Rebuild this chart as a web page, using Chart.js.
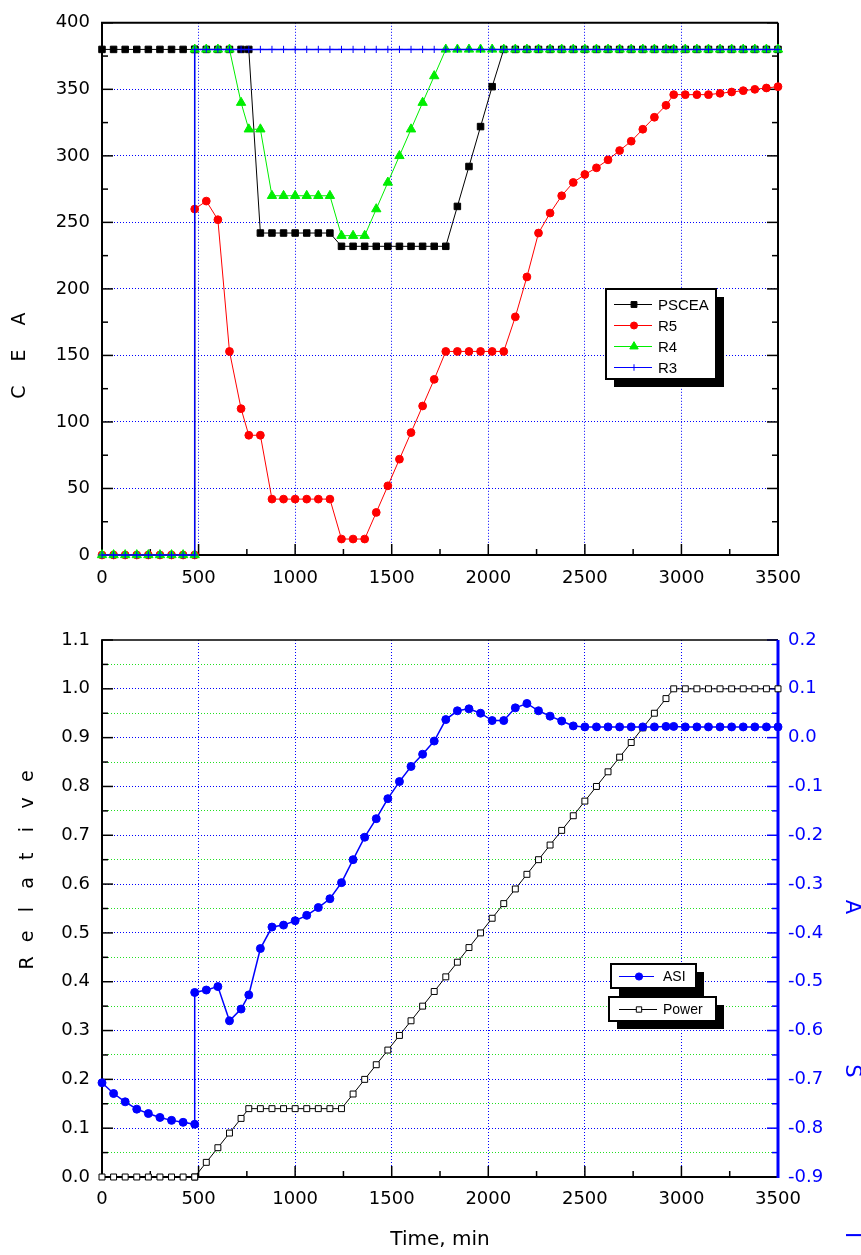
<!DOCTYPE html>
<html lang="en">
<head>
<meta charset="UTF-8">
<title>CEA and ASI vs time</title>
<script src="https://cdn.jsdelivr.net/npm/chart.js@4.4.0/dist/chart.umd.min.js"></script>
<style>
  body { margin: 0; background: #fff; }
  #wrap { position: relative; width: 861px; height: 1255px; background: #fff; }
  #topChart { position: absolute; left: 0; top: 0; }
  #botChart { position: absolute; left: 0; top: 600px; }
</style>
</head>
<body>
<div id="wrap">
  <canvas id="topChart" width="861" height="600"></canvas>
  <canvas id="botChart" width="861" height="655"></canvas>
</div>

<script>
// time axis, min (480 appears twice: the step change happens at that moment)
const timeMin = [0, 60, 120, 180, 240, 300, 360, 420, 480,
  480, 540, 600, 660, 720, 760,
  820, 880, 940, 1000, 1060, 1120, 1180, 1240, 1300, 1360, 1420, 1480, 1540, 1600, 1660, 1720, 1780, 1840,
  1900, 1960, 2020, 2080, 2140, 2200, 2260, 2320, 2380, 2440, 2500, 2560, 2620, 2680, 2740, 2800, 2860, 2920,
  2960, 3020, 3080, 3140, 3200, 3260, 3320, 3380, 3440, 3500];

// top panel: CEA positions
const psceaCEA = [380, 380, 380, 380, 380, 380, 380, 380, 380,
  380, 380, 380, 380, 380, 380,
  242, 242, 242, 242, 242, 242, 242, 232, 232, 232, 232, 232, 232, 232, 232, 232, 232, 262,
  292, 322, 352, 380, 380, 380, 380, 380, 380, 380, 380, 380, 380, 380, 380, 380, 380, 380,
  380, 380, 380, 380, 380, 380, 380, 380, 380, 380];
const r5CEA = [0, 0, 0, 0, 0, 0, 0, 0, 0,
  260, 266, 252, 153, 110, 90,
  90, 42, 42, 42, 42, 42, 42, 12, 12, 12, 32, 52, 72, 92, 112, 132, 153, 153,
  153, 153, 153, 153, 179, 209, 242, 257, 270, 280, 286, 291, 297, 304, 311, 320, 329, 338,
  346, 346, 346, 346, 347, 348, 349, 350, 351, 352];
const r4CEA = [0, 0, 0, 0, 0, 0, 0, 0, 0,
  380, 380, 380, 380, 340, 320,
  320, 270, 270, 270, 270, 270, 270, 240, 240, 240, 260, 280, 300, 320, 340, 360, 380, 380,
  380, 380, 380, 380, 380, 380, 380, 380, 380, 380, 380, 380, 380, 380, 380, 380, 380, 380,
  380, 380, 380, 380, 380, 380, 380, 380, 380, 380];
const r3CEA = [0, 0, 0, 0, 0, 0, 0, 0, 0,
  380, 380, 380, 380, 380, 380,
  380, 380, 380, 380, 380, 380, 380, 380, 380, 380, 380, 380, 380, 380, 380, 380, 380, 380,
  380, 380, 380, 380, 380, 380, 380, 380, 380, 380, 380, 380, 380, 380, 380, 380, 380, 380,
  380, 380, 380, 380, 380, 380, 380, 380, 380, 380];

// bottom panel: ASI (right axis) and relative power (left axis)
const asiVal = [-0.707, -0.729, -0.746, -0.761, -0.770, -0.778, -0.784, -0.788, -0.792,
  -0.522, -0.517, -0.510, -0.580, -0.556, -0.527,
  -0.432, -0.388, -0.384, -0.375, -0.364, -0.348, -0.330, -0.297, -0.250, -0.204, -0.166, -0.125, -0.090, -0.059, -0.034, -0.007, 0.037, 0.055,
  0.059, 0.050, 0.035, 0.035, 0.061, 0.070, 0.055, 0.044, 0.034, 0.024, 0.022, 0.022, 0.022, 0.022, 0.022, 0.022, 0.022, 0.023,
  0.023, 0.022, 0.022, 0.022, 0.022, 0.022, 0.022, 0.022, 0.022, 0.022];
const powerVal = [0, 0, 0, 0, 0, 0, 0, 0, 0,
  0, 0.03, 0.06, 0.09, 0.12, 0.14,
  0.14, 0.14, 0.14, 0.14, 0.14, 0.14, 0.14, 0.14, 0.17, 0.20, 0.23, 0.26, 0.29, 0.32, 0.35, 0.38, 0.41, 0.44,
  0.47, 0.50, 0.53, 0.56, 0.59, 0.62, 0.65, 0.68, 0.71, 0.74, 0.77, 0.80, 0.83, 0.86, 0.89, 0.92, 0.95, 0.98,
  1.00, 1.00, 1.00, 1.00, 1.00, 1.00, 1.00, 1.00, 1.00, 1.00];

const TICK_FONT = { family: 'DejaVu Sans', size: 18 };

function pts(vals) {
  return timeMin.map((t, i) => ({ x: t, y: vals[i] }));
}

function series(label, vals, st) {
  return {
    label: label,
    data: pts(vals),
    yAxisID: st.axis || 'y',
    borderColor: st.color,
    borderWidth: st.lw || 1,
    pointStyle: st.style,
    pointRadius: st.r,
    pointBackgroundColor: st.fill,
    pointBorderColor: st.color,
    pointBorderWidth: 1,
    tension: 0,
    fill: false,
    clip: false,
    order: st.order
  };
}

function near(v, step) {
  return Math.abs(Math.round(v / step) - v / step) < 1e-6;
}

// frame lines and inward tick marks
const axisFrame = {
  id: 'axisFrame',
  beforeDatasetsDraw(chart, args, o) {
    const ctx = chart.ctx, a = chart.chartArea;
    ctx.save();
    (o.ticks || []).forEach(t => {
      const sc = chart.scales[t.scale];
      ctx.strokeStyle = t.color;
      ctx.lineWidth = 1.5;
      sc.ticks.forEach(tk => {
        const len = tk.label ? 11 : 6;
        const p = sc.getPixelForValue(tk.value);
        ctx.beginPath();
        if (t.side === 'left') { ctx.moveTo(a.left, p); ctx.lineTo(a.left + len, p); }
        if (t.side === 'right') { ctx.moveTo(a.right, p); ctx.lineTo(a.right - len, p); }
        if (t.side === 'bottom') { ctx.moveTo(p, a.bottom); ctx.lineTo(p, a.bottom - len); }
        ctx.stroke();
      });
    });
    (o.edges || []).forEach(e => {
      ctx.strokeStyle = e.color;
      ctx.lineWidth = e.width;
      ctx.beginPath();
      if (e.side === 'left') { ctx.moveTo(a.left, a.top); ctx.lineTo(a.left, a.bottom + 1); }
      if (e.side === 'right') { ctx.moveTo(a.right, a.top); ctx.lineTo(a.right, a.bottom + 1); }
      if (e.side === 'top') { ctx.moveTo(a.left - 1, a.top); ctx.lineTo(a.right, a.top); }
      if (e.side === 'bottom') { ctx.moveTo(a.left - 1, a.bottom); ctx.lineTo(a.right + 1, a.bottom); }
      ctx.stroke();
    });
    ctx.restore();
  }
};

function drawMarker(ctx, ds, x, y, scale) {
  const r = ds.pointRadius * scale;
  ctx.fillStyle = ds.pointBackgroundColor;
  ctx.strokeStyle = ds.pointBorderColor;
  ctx.lineWidth = 1;
  ctx.beginPath();
  if (ds.pointStyle === 'rect') {
    const s = r * Math.SQRT1_2;
    ctx.rect(x - s, y - s, 2 * s, 2 * s);
    ctx.fill(); ctx.stroke();
  } else if (ds.pointStyle === 'circle') {
    ctx.arc(x, y, r, 0, Math.PI * 2);
    ctx.fill(); ctx.stroke();
  } else if (ds.pointStyle === 'triangle') {
    ctx.moveTo(x, y - r);
    ctx.lineTo(x + r * 0.866, y + r * 0.5);
    ctx.lineTo(x - r * 0.866, y + r * 0.5);
    ctx.closePath();
    ctx.fill(); ctx.stroke();
  } else if (ds.pointStyle === 'cross') {
    ctx.moveTo(x - r, y); ctx.lineTo(x + r, y);
    ctx.moveTo(x, y - r); ctx.lineTo(x, y + r);
    ctx.stroke();
  }
}

// legend boxes with a drop shadow
const boxLegend = {
  id: 'boxLegend',
  afterDatasetsDraw(chart, args, o) {
    const ctx = chart.ctx;
    (o.boxes || []).forEach(b => {
      ctx.save();
      ctx.fillStyle = '#000';
      ctx.fillRect(b.x + 8, b.y + 8, b.w, b.h);
      ctx.fillStyle = '#fff';
      ctx.fillRect(b.x, b.y, b.w, b.h);
      ctx.strokeStyle = '#000';
      ctx.lineWidth = 2;
      ctx.strokeRect(b.x, b.y, b.w, b.h);
      b.items.forEach((idx, i) => {
        const ds = chart.data.datasets[idx];
        const y = b.y + b.first + i * b.step;
        ctx.strokeStyle = ds.borderColor;
        ctx.lineWidth = 1;
        ctx.beginPath();
        ctx.moveTo(b.x + b.lineFrom, y);
        ctx.lineTo(b.x + b.lineTo, y);
        ctx.stroke();
        drawMarker(ctx, ds, b.x + b.mark, y, 0.9);
        ctx.fillStyle = '#000';
        ctx.font = b.font;
        ctx.textAlign = 'left';
        ctx.textBaseline = 'middle';
        ctx.fillText(ds.label, b.x + b.text, y + 1);
      });
      ctx.restore();
    });
  }
};

// rotated, widely spaced axis titles
const spacedTitles = {
  id: 'spacedTitles',
  afterDraw(chart, args, o) {
    const ctx = chart.ctx;
    (o.items || []).forEach(t => {
      ctx.save();
      ctx.font = t.font;
      ctx.fillStyle = t.color;
      ctx.textAlign = 'center';
      ctx.textBaseline = 'middle';
      t.text.split('').forEach((ch, i) => {
        ctx.save();
        ctx.translate(t.x, t.y0 + i * t.step);
        ctx.rotate(t.rot);
        ctx.fillText(ch, 0, 0);
        ctx.restore();
      });
      ctx.restore();
    });
  }
};

// ---------- top panel ----------
new Chart(document.getElementById('topChart'), {
  type: 'line',
  data: {
    datasets: [
      series('PSCEA', psceaCEA, { color: '#000000', fill: '#000000', style: 'rect', r: 4.6, order: 2 }),
      series('R5', r5CEA, { color: '#ff0000', fill: '#ff0000', style: 'circle', r: 3.9, order: 3 }),
      series('R4', r4CEA, { color: '#00ee00', fill: '#00ee00', style: 'triangle', r: 5.4, order: 1 }),
      series('R3', r3CEA, { color: '#0000ff', fill: '#0000ff', style: 'cross', r: 3.6, lw: 1.5, order: 0 })
    ]
  },
  options: {
    responsive: false,
    animation: false,
    layout: { padding: { left: 0, top: 17, right: 83, bottom: 0 } },
    plugins: {
      legend: { display: false },
      tooltip: { enabled: false },
      axisFrame: {
        ticks: [
          { scale: 'y', side: 'left', color: '#000' },
          { scale: 'y', side: 'right', color: '#000' },
          { scale: 'x', side: 'bottom', color: '#000' }
        ],
        edges: [
          { side: 'left', color: '#000', width: 2 },
          { side: 'right', color: '#000', width: 2 },
          { side: 'top', color: '#000', width: 2 },
          { side: 'bottom', color: '#000', width: 2 }
        ]
      },
      boxLegend: {
        boxes: [
          { x: 606, y: 289, w: 110, h: 90, first: 15.5, step: 21, lineFrom: 8, lineTo: 46, mark: 28, text: 52,
            font: '15px "Liberation Sans", Arial, sans-serif', items: [0, 1, 2, 3] }
        ]
      },
      spacedTitles: {
        items: [
          { text: 'CEA', x: 20, y0: 392, step: -36.5, rot: -Math.PI / 2, color: '#000',
            font: '19px "DejaVu Sans", sans-serif' }
        ]
      }
    },
    scales: {
      x: {
        type: 'linear', min: 0, max: 3500,
        afterFit: s => { s.height = 45; },
        ticks: {
          stepSize: 250, autoSkip: false, maxRotation: 0, padding: 13, color: '#000', font: TICK_FONT,
          callback: v => near(v, 500) ? String(v) : ''
        },
        grid: {
          drawTicks: false, lineWidth: 1,
          color: c => (c.tick && near(c.tick.value, 500) && c.tick.value > 0 && c.tick.value < 3500) ? '#0000ff' : 'rgba(0,0,0,0)'
        },
        border: { display: false, dash: [1, 2] }
      },
      y: {
        type: 'linear', min: 0, max: 400,
        afterFit: s => { s.width = 102; },
        ticks: {
          stepSize: 25, autoSkip: false, padding: 12, color: '#000', font: TICK_FONT,
          callback: v => near(v, 50) ? String(v) : ''
        },
        grid: {
          drawTicks: false, lineWidth: 1,
          color: c => (c.tick && near(c.tick.value, 50) && c.tick.value > 0 && c.tick.value < 400) ? '#0000ff' : 'rgba(0,0,0,0)'
        },
        border: { display: false, dash: [1, 2] }
      }
    }
  },
  plugins: [axisFrame, boxLegend, spacedTitles]
});

// ---------- bottom panel ----------
new Chart(document.getElementById('botChart'), {
  type: 'line',
  data: {
    datasets: [
      series('ASI', asiVal, { axis: 'y2', color: '#0000ff', fill: '#0000ff', style: 'circle', r: 4, lw: 1.5, order: 0 }),
      series('Power', powerVal, { axis: 'y', color: '#000000', fill: '#ffffff', style: 'rect', r: 4.2, order: 1 })
    ]
  },
  options: {
    responsive: false,
    animation: false,
    layout: { padding: { left: 0, top: 40, right: 0, bottom: 0 } },
    plugins: {
      legend: { display: false },
      tooltip: { enabled: false },
      axisFrame: {
        ticks: [
          { scale: 'y', side: 'left', color: '#000' },
          { scale: 'y2', side: 'right', color: '#0000ff' },
          { scale: 'x', side: 'bottom', color: '#000' }
        ],
        edges: [
          { side: 'top', color: '#000', width: 1.5 },
          { side: 'left', color: '#000', width: 2 },
          { side: 'bottom', color: '#000', width: 2 },
          { side: 'right', color: '#0000ff', width: 3 }
        ]
      },
      boxLegend: {
        boxes: [
          { x: 611, y: 364, w: 85, h: 24, first: 12.5, step: 0, lineFrom: 8, lineTo: 43, mark: 28, text: 52,
            font: '14px "Liberation Sans", Arial, sans-serif', items: [0] },
          { x: 609, y: 397, w: 107, h: 24, first: 12.5, step: 0, lineFrom: 10, lineTo: 48, mark: 30, text: 54,
            font: '14px "Liberation Sans", Arial, sans-serif', items: [1] }
        ]
      },
      spacedTitles: {
        items: [
          { text: 'Relative', x: 28, y0: 363, step: -26.7, rot: -Math.PI / 2, color: '#000',
            font: '19px "DejaVu Sans", sans-serif' },
          { text: 'ASI', x: 851, y0: 307, step: 164, rot: Math.PI / 2, color: '#0000ff',
            font: '21px "DejaVu Sans", sans-serif' }
        ]
      }
    },
    scales: {
      x: {
        type: 'linear', min: 0, max: 3500,
        afterFit: s => { s.height = 78; },
        title: {
          display: true, text: 'Time, min', color: '#000',
          font: { family: 'DejaVu Sans', size: 20 }, padding: { top: 0, bottom: 3 }
        },
        ticks: {
          stepSize: 250, autoSkip: false, maxRotation: 0, padding: 12, color: '#000', font: TICK_FONT,
          callback: v => near(v, 500) ? String(v) : ''
        },
        grid: {
          drawTicks: false, lineWidth: 1,
          color: c => (c.tick && near(c.tick.value, 500) && c.tick.value > 0 && c.tick.value < 3500) ? '#0000ff' : 'rgba(0,0,0,0)'
        },
        border: { display: false, dash: [1, 2] }
      },
      y: {
        type: 'linear', position: 'left', min: 0, max: 1.1,
        afterFit: s => { s.width = 102; },
        ticks: {
          stepSize: 0.05, autoSkip: false, padding: 12, color: '#000', font: TICK_FONT,
          callback: v => near(v, 0.1) ? v.toFixed(1) : ''
        },
        grid: {
          drawTicks: false, lineWidth: 1,
          color: c => {
            if (!c.tick) return 'rgba(0,0,0,0)';
            const v = c.tick.value;
            if (v < 0.01 || v > 1.09) return 'rgba(0,0,0,0)';
            return near(v, 0.1) ? '#0000ff' : '#22e022';
          }
        },
        border: { display: false, dash: [1, 2] }
      },
      y2: {
        type: 'linear', position: 'right', min: -0.9, max: 0.2,
        afterFit: s => { s.width = 83; },
        ticks: {
          stepSize: 0.05, autoSkip: false, padding: 10, color: '#0000ff', font: TICK_FONT,
          callback: v => near(v, 0.1) ? (Math.abs(v) < 1e-9 ? '0.0' : v.toFixed(1)) : ''
        },
        grid: { drawTicks: false, drawOnChartArea: false },
        border: { display: false }
      }
    }
  },
  plugins: [axisFrame, boxLegend, spacedTitles]
});
</script>
</body>
</html>
